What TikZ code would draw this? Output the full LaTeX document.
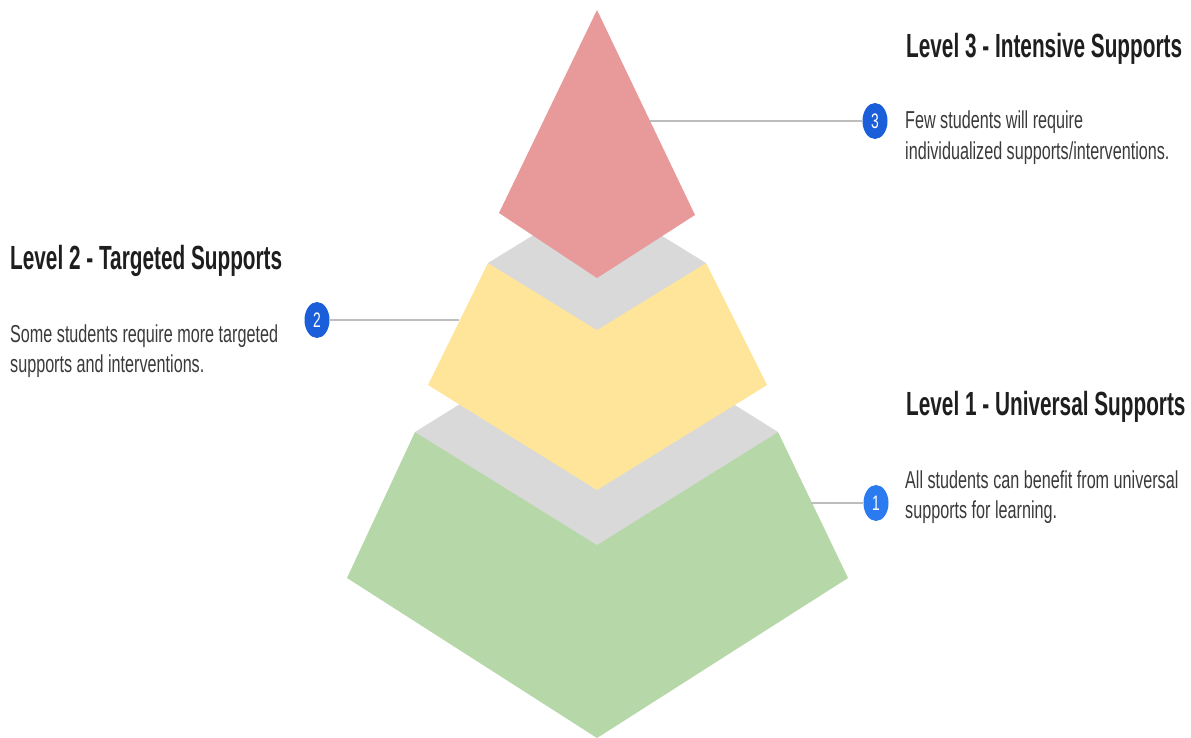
\documentclass[tikz,border=0pt]{standalone}
\usepackage{fontspec}
\setmainfont{Liberation Sans}
\newfontfamily\titlefont[FakeStretch=0.62]{Liberation Sans}
\newfontfamily\bodyfont[FakeStretch=0.66]{Liberation Sans}
\definecolor{tred}{HTML}{E8999A}
\definecolor{tyellow}{HTML}{FFE599}
\definecolor{tgreen}{HTML}{B6D7A8}
\definecolor{tgrey}{HTML}{D9D9D9}
\definecolor{tline}{HTML}{BDBDBD}
\definecolor{tblue}{HTML}{1A5FD9}
\definecolor{tblueb}{HTML}{2A7BEF}
\definecolor{ttitle}{HTML}{1E1E1E}
\definecolor{tbody}{HTML}{3A3A3A}
\usetikzlibrary{shapes.geometric}
\tikzset{
  titletext/.style={anchor=base west, inner sep=0pt, text=ttitle, font=\titlefont\bfseries\fontsize{33.5}{40}\selectfont},
  bodytext/.style={anchor=base west, inner sep=0pt, text=tbody, font=\bodyfont\fontsize{24.5}{30}\selectfont},
  badge/.style={ellipse, minimum width=25pt, minimum height=36pt, inner sep=0pt, fill=#1, text=white, font=\bodyfont\fontsize{21}{24}\selectfont},
  leader/.style={draw=tline, line width=1.8pt},
}
\begin{document}
\begin{tikzpicture}[x=1pt,y=-1pt]
\useasboundingbox (0,0) rectangle (1191,738);
% level 1 (green)
\fill[tgreen] (415,432) -- (778,432) -- (848,578) -- (597,738) -- (347,578) -- cycle;
\fill[tgrey] (415,432) -- (597,319) -- (778,432) -- (597,545) -- cycle;
% level 2 (yellow)
\fill[tyellow] (488,263) -- (706,263) -- (767,385) -- (597,490) -- (428,385) -- cycle;
\fill[tgrey] (488,263) -- (597,196) -- (706,263) -- (597,330) -- cycle;
% level 3 (red)
\fill[tred] (597,10) -- (695,215) -- (597,278) -- (499,213) -- cycle;
% badges
\node[badge=tblue] (b3) at (875,121) {3};
\node[badge=tblue] (b2) at (317,320) {2};
\node[badge=tblueb] (b1) at (876,503) {1};
% leader lines
\coordinate (e3) at (650,121);
\coordinate (e2) at (459,320);
\coordinate (e1) at (811,503);
\draw[leader] (e3) -- (b3);
\draw[leader] (b2) -- (e2);
\draw[leader] (e1) -- (b1);
% texts
\node[titletext] (t3) at (906,58) {Level 3 - Intensive Supports};
\node[bodytext] (d3a) at (905,129) {Few students will require};
\node[bodytext] (d3b) at (905,160) {individualized supports/interventions.};
\node[titletext] (t2) at (10,269) {Level 2 - Targeted Supports};
\node[bodytext] (d2a) at (10,342) {Some students require more targeted};
\node[bodytext] (d2b) at (10,372) {supports and interventions.};
\node[titletext] (t1) at (906,415) {Level 1 - Universal Supports};
\node[bodytext] (d1a) at (905,488) {All students can benefit from universal};
\node[bodytext] (d1b) at (905,518) {supports for learning.};
\end{tikzpicture}
\end{document}
